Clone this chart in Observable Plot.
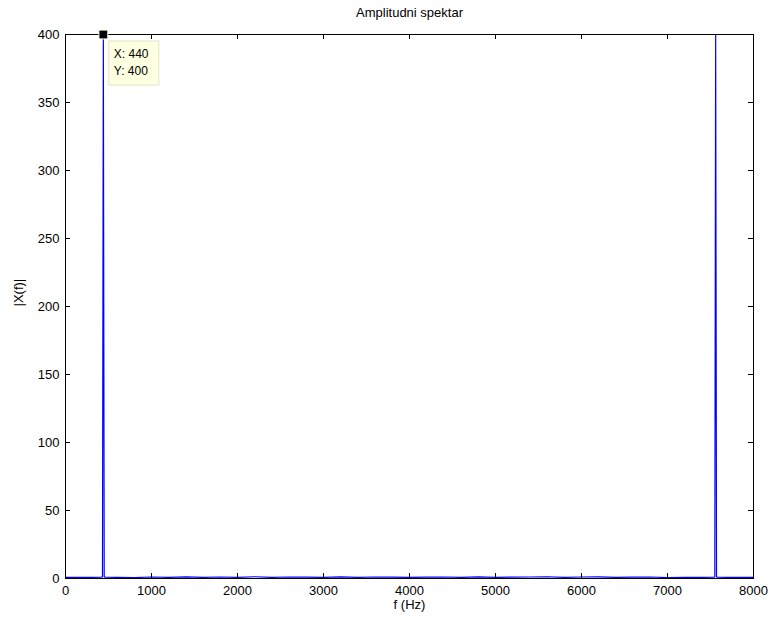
<!DOCTYPE html>
<html>
<head>
<meta charset="utf-8">
<script src="https://cdn.jsdelivr.net/npm/d3@7"></script>
<script src="https://cdn.jsdelivr.net/npm/@observablehq/plot@0.6"></script>
<style>
  html, body { margin: 0; padding: 0; background: #ffffff; }
  #chart { width: 772px; height: 622px; }
</style>
</head>
<body>
<div id="chart"></div>
<script>
// ---- data ----
const chartTitle = "Amplitudni spektar";
const xLabel = "f (Hz)";
const yLabel = "|X(f)|";

const freqHz = [0, 150, 300, 420, 430, 440, 450, 460, 600, 800, 1000, 1200, 1400, 1600, 1800, 2000,
  2200, 2400, 2600, 2800, 3000, 3200, 3400, 3600, 3800, 4000, 4200, 4400, 4600, 4800, 5000,
  5200, 5400, 5600, 5800, 6000, 6200, 6400, 6600, 6800, 7000, 7200, 7400, 7540, 7550, 7560,
  7570, 7580, 7700, 7850, 8000];
const amplitude = [0.9, 0.8, 0.9, 1.0, 1.2, 400, 1.2, 1.0, 0.9, 0.7, 1.1, 0.8, 1.2, 0.9, 1.1, 0.8,
  1.3, 0.9, 1.1, 1.0, 0.8, 1.2, 0.9, 1.1, 1.0, 0.9, 1.0, 1.1, 0.9, 1.2, 0.8,
  1.0, 1.1, 1.3, 0.8, 1.1, 1.2, 0.8, 1.0, 1.1, 0.7, 0.9, 0.8, 1.0, 1.2, 400,
  1.2, 1.0, 0.9, 0.8, 0.9];

const xTicks = [0, 1000, 2000, 3000, 4000, 5000, 6000, 7000, 8000];
const yTicks = [0, 50, 100, 150, 200, 250, 300, 350, 400];

const tipX = 440;
const tipY = 400;
const tipLines = ["X: 440", "Y: 400"];

// ---- build table ----
const spectrum = freqHz.map((f, i) => ({f, a: amplitude[i]}));

const W = 772, H = 622;
const mL = 65, mR = 19, mT = 34, mB = 44;
const innerW = W - mL - mR, innerH = H - mT - mB;

const tooltip = (index, scales) => {
  const px = scales.x(tipX), py = scales.y(tipY);
  const g = d3.create("svg:g");
  const bx = px + 6, by = py + 7;
  g.append("rect")
    .attr("x", bx).attr("y", by).attr("width", 50).attr("height", 44)
    .attr("fill", "#ffffe1").attr("stroke", "#e4e4c4").attr("stroke-width", 1);
  tipLines.forEach((t, i) => {
    g.append("text")
      .attr("x", bx + 5).attr("y", by + 17 + i * 16.5)
      .attr("text-anchor", "start")
      .attr("font-size", 12).attr("fill", "#000")
      .text(t);
  });
  return g.node();
};

const chart = Plot.plot({
  width: W,
  height: H,
  marginLeft: mL,
  marginRight: mR,
  marginTop: mT,
  marginBottom: mB,
  style: {fontFamily: "'Liberation Sans', Arial, Helvetica, sans-serif", fontSize: "13px", background: "#ffffff", color: "#000"},
  x: {domain: [0, 8000], ticks: xTicks},
  y: {domain: [0, 400], ticks: yTicks},
  marks: [
    Plot.line(spectrum, {x: "f", y: "a", stroke: "#0000ff", strokeWidth: 1.2}),
    Plot.frame({stroke: "#000", strokeWidth: 1}),
    // inward ticks on all four sides
    Plot.tickX(xTicks, {x: d => d, insetTop: innerH - 5, stroke: "#000"}),
    Plot.tickX(xTicks, {x: d => d, insetBottom: innerH - 5, stroke: "#000"}),
    Plot.tickY(yTicks, {y: d => d, insetRight: innerW - 5, stroke: "#000"}),
    Plot.tickY(yTicks, {y: d => d, insetLeft: innerW - 5, stroke: "#000"}),
    Plot.axisX({ticks: xTicks, tickSize: 0, tickPadding: 7, label: null, fontSize: 13, tickFormat: d => String(d)}),
    Plot.axisY({ticks: yTicks, tickSize: 0, tickPadding: 6, label: null, fontSize: 13, tickFormat: d => String(d)}),
    Plot.text([chartTitle], {text: d => d, frameAnchor: "top", dy: -27, fontSize: 13, fill: "#000"}),
    Plot.text([xLabel], {text: d => d, frameAnchor: "bottom", dy: 30, fontSize: 13, fill: "#000"}),
    Plot.text([yLabel], {text: d => d, frameAnchor: "left", dx: -47, rotate: -90, fontSize: 13, fill: "#000"}),
    Plot.dot([{f: tipX, a: tipY}], {x: "f", y: "a", symbol: "square", r: 5, fill: "#000", stroke: "#ffffe1", strokeWidth: 1}),
    tooltip
  ]
});

document.getElementById("chart").appendChild(chart);
</script>
</body>
</html>
